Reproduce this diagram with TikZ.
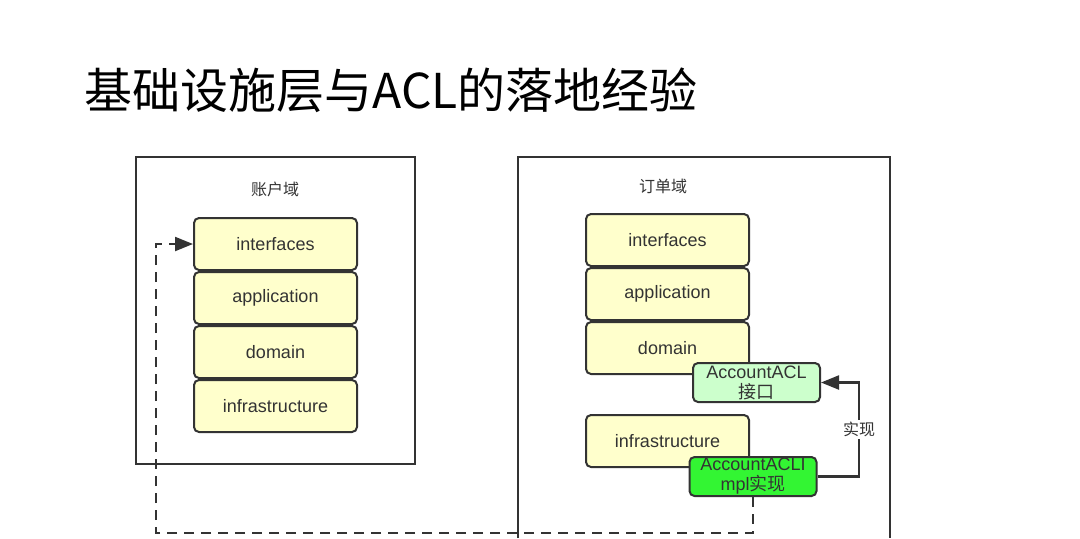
\documentclass[tikz,border=0pt]{standalone}
\usepackage{fontspec}
\setmainfont{Liberation Sans}
\newfontfamily\cjk{Noto Sans CJK SC}
\usetikzlibrary{arrows.meta,positioning}
\definecolor{layeryellow}{HTML}{FFFFCC}
\definecolor{aclgreen}{HTML}{CCFFCC}
\definecolor{implgreen}{HTML}{33F533}
\definecolor{linegray}{HTML}{333333}
\definecolor{textgray}{HTML}{333333}

\begin{document}
\begin{tikzpicture}[x=0.5pt, y=-0.5pt,
    layer/.style={draw=linegray, fill=layeryellow, rounded corners=2.5pt, line width=1pt,
      minimum width=81.5pt, minimum height=26pt, inner sep=0pt,
      font=\fontsize{9}{10}\selectfont, text=textgray},
    acl/.style={layer, align=center, minimum width=63.5pt, minimum height=19.5pt, inner sep=0.5pt},
    frame/.style={draw=linegray, line width=1pt},
    domlbl/.style={font=\cjk\fontsize{8}{9}\selectfont, text=textgray},
    arr/.style={-{Triangle[length=9pt,width=7pt]}, draw=linegray, line width=1.1pt},
    dasharr/.style={arr, dash pattern=on 5pt off 3.5pt}]
\useasboundingbox (0,0) rectangle (1080,538);
% title
\node[anchor=west, inner sep=0pt, font=\cjk\fontsize{24}{26}\selectfont] (title) at (84,90) {基础设施层与ACL的落地经验};
% account domain
\draw[frame] (136,157) rectangle (415,464);
\node[domlbl] (acctlbl) at (275,189) {账户域};
\node[layer] (ai) at (275.5,244) {interfaces};
\node[layer, below=0pt of ai] (aa) {application};
\node[layer, below=0pt of aa] (ad) {domain};
\node[layer, below=0pt of ad] (af) {infrastructure};
% order domain
\draw[frame] (518,538) -- (518,157) -- (890,157) -- (890,538);
\node[domlbl] (ordlbl) at (663,186) {订单域};
\node[layer] (oi) at (667.5,240) {interfaces};
\node[layer, below=0pt of oi] (oa) {application};
\node[layer, below=0pt of oa] (od) {domain};
\node[layer, below=19.5pt of od] (of) {infrastructure};
\node[acl, fill=aclgreen] (aclif) at (756.5,382.5) {AccountACL\\{\cjk 接口}};
\node[acl, fill=implgreen] (aclimpl) at (753,476.5) {AccountACLI\\mpl{\cjk 实现}};
% connectors
\coordinate (turn) at (859,0);
\coordinate (loop) at (156,533);
\draw[arr] (aclimpl.east) -| node[pos=0.75, fill=white, inner sep=1pt, domlbl] (impllbl) {实现}
  (turn |- aclif.east) -- (aclif.east);
\draw[dasharr] (aclimpl.south) |- (loop) |- (ai.west);
\end{tikzpicture}
\end{document}
